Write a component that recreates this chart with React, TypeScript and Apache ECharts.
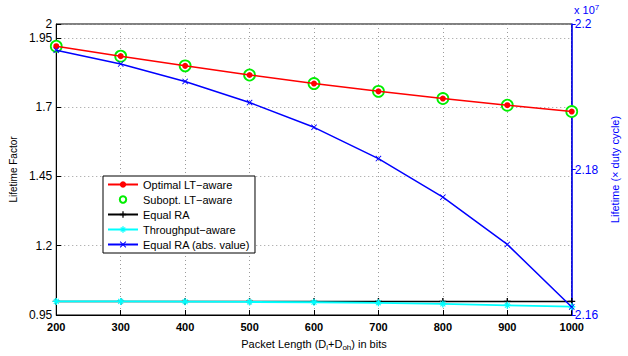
import React, { useEffect, useRef } from "react";
import * as echarts from "echarts";

const packetLengths = [200, 300, 400, 500, 600, 700, 800, 900, 1000];
const optimalLT = [1.92, 1.884, 1.849, 1.816, 1.785, 1.757, 1.731, 1.707, 1.684];
const suboptLT = [1.92, 1.884, 1.849, 1.816, 1.785, 1.757, 1.731, 1.707, 1.684];
const equalRA = [0.999, 0.999, 0.999, 0.999, 0.999, 0.999, 0.999, 0.999, 0.999];
const throughputAware = [0.999, 0.999, 0.998, 0.997, 0.996, 0.994, 0.99, 0.985, 0.98];
const equalRAAbs = [21964000, 21945000, 21921000, 21892000, 21858000, 21815000, 21762000, 21697000, 21611000];
const leftTicks = { min: 0.95, max: 2, interval: 0.25 };
const rightTicks = { min: 21600000, max: 22000000, interval: 200000 };

const FONT = "Liberation Sans";

const plusPath = "path://M4,0h2v4h4v2h-4v4h-2v-4h-4v-2h4z";
const crossPath = "path://M0,1L1,0L5,4L9,0L10,1L6,5L10,9L9,10L5,6L1,10L0,9L4,5Z";
const starPath = "path://M4,0h2v3l2,-2l1,1l-2,2h3v2h-3l2,2l-1,1l-2,-2v3h-2v-3l-2,2l-1,-1l2,-2h-3v-2h3l-2,-2l1,-1l2,2z";

const zip = (ys: number[]) => packetLengths.map((x, i) => [x, ys[i]]);

export default function App() {
  const ref = useRef<HTMLDivElement>(null);
  useEffect(() => {
    if (!ref.current) return;
    const chart = echarts.init(ref.current, undefined, { renderer: "svg" });
    const grid = "#9a9a9a";
    chart.setOption({
      animation: false,
      backgroundColor: "#fff",
      textStyle: { fontFamily: FONT },
      grid: { left: 52, right: 55, top: 24, bottom: 34, show: true, borderColor: "#000", borderWidth: 1 },
      legend: {
        left: 103,
        top: 176,
        orient: "vertical",
        itemWidth: 30,
        itemHeight: 8,
        itemGap: 4,
        padding: [3, 5, 3, 4],
        borderColor: "#000",
        borderWidth: 1,
        borderRadius: 0,
        backgroundColor: "#fff",
        textStyle: { fontFamily: FONT, fontSize: 11, color: "#000" },
        data: ["Optimal LT\u2212aware", "Subopt. LT\u2212aware", "Equal RA", "Throughput\u2212aware", "Equal RA (abs. value)"],
      },
      xAxis: {
        type: "value",
        min: 200,
        max: 1000,
        interval: 100,
        name: "Packet Length (D{sub|i}+D{sub|oh}) in bits",
        nameLocation: "middle",
        nameGap: 22,
        nameTextStyle: {
          fontFamily: FONT,
          fontSize: 11,
          color: "#000",
          rich: { sub: { fontFamily: FONT, fontSize: 8, color: "#000", verticalAlign: "bottom", padding: [6, 0, 0, 0] } },
        },
        axisLine: { lineStyle: { color: "#000", width: 1 } },
        axisTick: { inside: true, length: 5, lineStyle: { color: "#000" } },
        axisLabel: {
          color: "#000",
          fontSize: 11,
          fontWeight: "bold",
          lineHeight: 11,
          margin: 6,
          fontFamily: FONT,
          formatter: (v: number) => String(v),
        },
        splitLine: { show: true, lineStyle: { color: grid, type: [1, 3], width: 1 } },
      },
      yAxis: [
        {
          type: "value",
          min: leftTicks.min,
          max: leftTicks.max,
          interval: leftTicks.interval,
          name: "Lifetime Factor",
          nameLocation: "middle",
          nameGap: 35,
          nameRotate: 90,
          nameTextStyle: { fontFamily: FONT, fontSize: 10, color: "#000" },
          axisLine: { show: true, lineStyle: { color: "#000", width: 1 } },
          axisTick: { show: true, inside: true, length: 5, lineStyle: { color: "#000" } },
          axisLabel: {
            color: "#000",
            fontSize: 12,
            margin: 4,
            fontFamily: FONT,
            formatter: (v: number) => String(parseFloat(v.toFixed(2))),
          },
          splitLine: { show: true, lineStyle: { color: grid, type: [1, 3], width: 1 } },
        },
        {
          type: "value",
          position: "right",
          min: rightTicks.min,
          max: rightTicks.max,
          interval: rightTicks.interval,
          name: "Lifetime (\u00d7 duty cycle)",
          nameLocation: "middle",
          nameGap: 36,
          nameRotate: 90,
          nameTextStyle: { fontFamily: FONT, fontSize: 11, color: "#0000ff" },
          axisLine: { show: true, lineStyle: { color: "#0000ff", width: 1.5 } },
          axisTick: { show: true, inside: false, length: 4, lineStyle: { color: "#0000ff" } },
          axisLabel: {
            color: "#0000ff",
            fontSize: 12,
            lineHeight: 10,
            margin: 3,
            fontFamily: FONT,
            formatter: (v: number) => String(parseFloat((v / 1e7).toFixed(2))),
          },
          splitLine: { show: false },
        },
      ],
      graphic: [
        {
          type: "text",
          left: 574,
          top: 3,
          style: {
            text: "x 10{sup|7}",
            fill: "#0000ff",
            font: `11px ${FONT}`,
            rich: { sup: { fontSize: 8, fill: "#0000ff", verticalAlign: "top", padding: [0, 0, 6, 0] } },
          },
        },
      ],
      series: [
        {
          name: "Subopt. LT\u2212aware",
          type: "line",
          data: zip(suboptLT),
          symbol: "circle",
          symbolSize: 11,
          itemStyle: { color: "#fff", borderColor: "#00ee00", borderWidth: 1.8, opacity: 1 },
          lineStyle: { width: 0, opacity: 0 },
          z: 2,
        },
        {
          name: "Optimal LT\u2212aware",
          type: "line",
          data: zip(optimalLT),
          symbol: "circle",
          symbolSize: 6,
          itemStyle: { color: "#ff0000" },
          lineStyle: { color: "#ff0000", width: 1.5 },
          z: 3,
        },
        {
          name: "Equal RA",
          type: "line",
          data: zip(equalRA),
          symbol: plusPath,
          symbolSize: 7,
          itemStyle: { color: "#000" },
          lineStyle: { color: "#000", width: 1.5 },
          z: 3,
        },
        {
          name: "Throughput\u2212aware",
          type: "line",
          data: zip(throughputAware),
          symbol: starPath,
          symbolSize: 7,
          itemStyle: { color: "#00ffff" },
          lineStyle: { color: "#00ffff", width: 1.8 },
          z: 4,
        },
        {
          name: "Equal RA (abs. value)",
          type: "line",
          yAxisIndex: 1,
          data: zip(equalRAAbs),
          symbol: crossPath,
          symbolSize: 6,
          itemStyle: { color: "#0000ff" },
          lineStyle: { color: "#0000ff", width: 1.5 },
          z: 5,
        },
      ],
    });
    return () => chart.dispose();
  }, []);
  return <div ref={ref} style={{ width: 628, height: 356, position: "absolute", left: 0, top: 0 }} />;
}
